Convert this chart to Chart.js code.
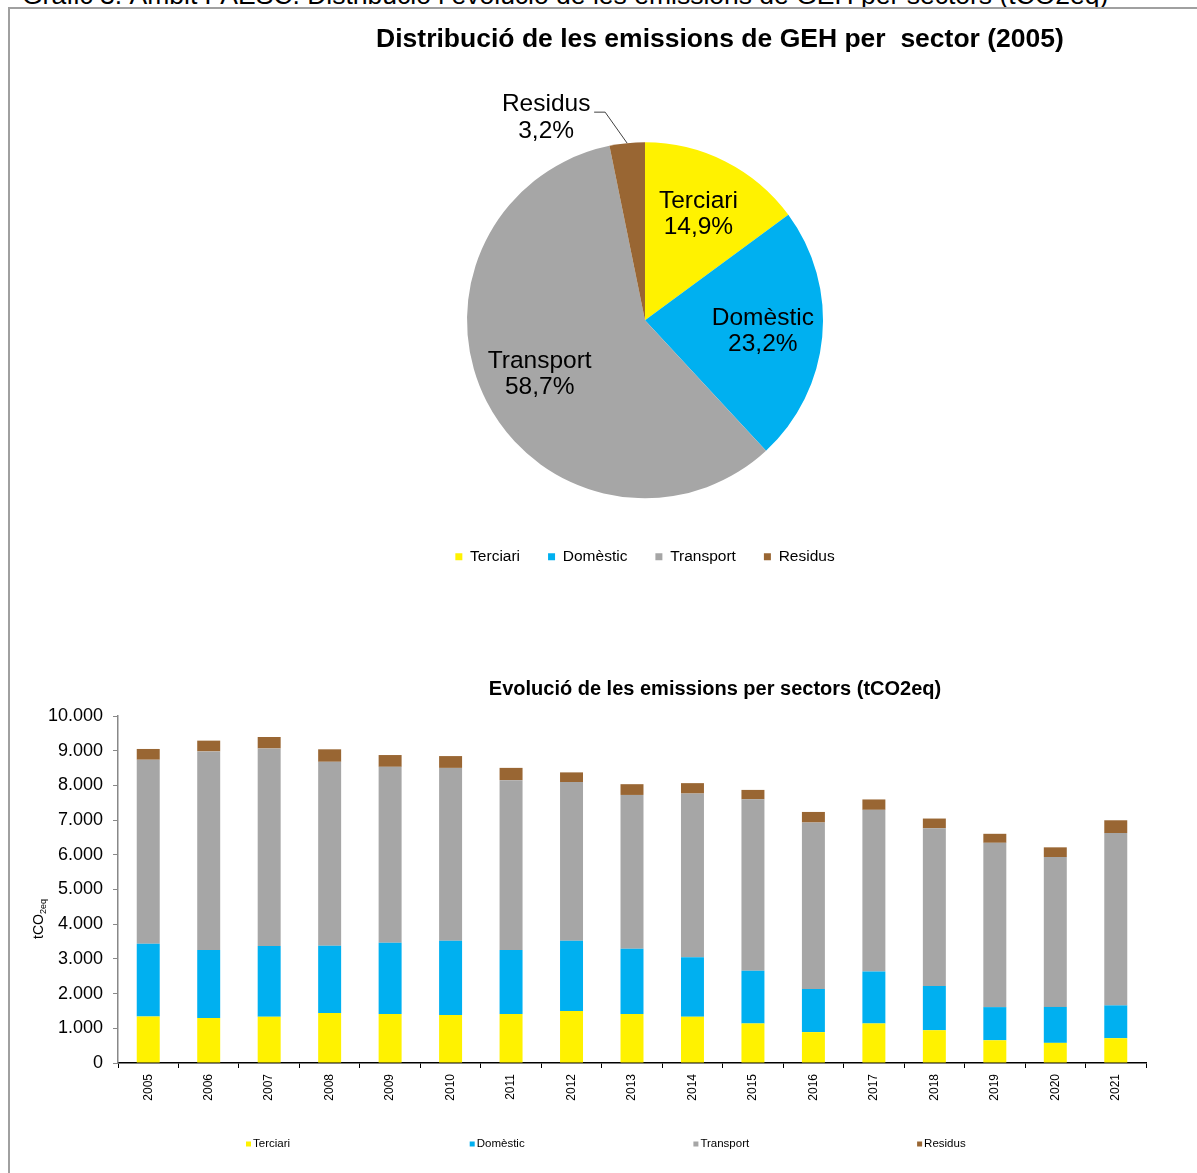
<!DOCTYPE html>
<html lang="ca">
<head>
<meta charset="utf-8">
<title>Emissions de GEH per sectors</title>
<script src="https://cdn.jsdelivr.net/npm/chart.js@4.4.0/dist/chart.umd.min.js"></script>
<style>
  html, body { margin:0; padding:0; overflow:hidden; background:#fff; }
  body { position:relative; width:1197px; height:1173px; font-family:'Liberation Sans', Arial, sans-serif; }
  #caption { position:absolute; left:22px; top:-20px; font-size:26.5px; white-space:nowrap; color:#000; }
  #frame { position:absolute; left:8px; top:7px; right:-4px; bottom:-4px; border-top:2px solid #a0a0a0; border-left:2px solid #a0a0a0; }
  .box { position:absolute; }
</style>
</head>
<body>
<div id="caption">Gràfic 3. Àmbit PAESC. Distribució i evolució de les emissions de GEH per sectors (tCO2eq)</div>
<div id="frame"></div>
<div class="box" style="left:0;top:0;width:1290px;height:600px"><canvas id="pieChart"></canvas></div>
<div class="box" style="left:0;top:640px;width:1197px;height:533px"><canvas id="barChart"></canvas></div>

<script>
// ===== Data =====
const SECTORS = ['Terciari', 'Domèstic', 'Transport', 'Residus'];
const COLORS  = ['#FFF200', '#00B0F0', '#A6A6A6', '#996633'];
const PIE_SHARES = [14.9, 23.2, 58.7, 3.2];   // % 2005

const YEARS = ['2005','2006','2007','2008','2009','2010','2011','2012','2013','2014','2015','2016','2017','2018','2019','2020','2021'];
const TERCIARI  = [1340,1300,1330,1440,1410,1380,1410,1500,1410,1330,1140, 890,1140, 945, 655, 580, 715];
const DOMESTIC  = [2100,1960,2045,1940,2055,2140,1850,2025,1880,1720,1520,1245,1495,1275, 955,1035, 945];
const TRANSPORT = [5300,5720,5690,5300,5070,4985,4890,4570,4435,4715,4940,4795,4660,4545,4735,4320,4965];
const RESIDUS   = [ 310, 310, 330, 360, 340, 340, 355, 280, 310, 300, 270, 305, 300, 280, 260, 280, 370];
const Y_MAX = 10000, Y_STEP = 1000;

// ===== Defaults =====
const FONT = "'Liberation Sans', Arial, sans-serif";
Chart.defaults.font.family = FONT;
Chart.defaults.color = '#000';
Chart.defaults.animation = false;

// ===== Utils =====
const fmtThousands = v => String(v).replace(/\B(?=(\d{3})+(?!\d))/g, '.');
const fmtPct = v => v.toFixed(1).replace('.', ',') + '%';

// ===== Plugin: pie title + slice labels =====
const pieDecor = {
  id: 'pieDecor',
  afterDraw(chart){
    const ctx = chart.ctx;
    ctx.save();
    ctx.fillStyle = '#000';
    ctx.textAlign = 'center';
    ctx.textBaseline = 'middle';
    ctx.font = `bold 26.5px ${FONT}`;
    ctx.fillText('Distribució de les emissions de GEH per  sector (2005)', 720, 40);

    const arcs = chart.getDatasetMeta(0).data;
    ctx.font = `24.5px ${FONT}`;
    arcs.forEach((arc, i) => {
      const {x, y, startAngle, endAngle, outerRadius} = arc.getProps(['x','y','startAngle','endAngle','outerRadius']);
      const name = SECTORS[i], pct = fmtPct(PIE_SHARES[i]);
      const mid = (startAngle + endAngle) / 2;
      if (i < 3) {
        const d = outerRadius * 0.665;
        const lx = x + Math.cos(mid) * d, ly = y + Math.sin(mid) * d;
        ctx.fillText(name, lx, ly - 13);
        ctx.fillText(pct, lx, ly + 13);
      } else {
        // outside label with leader line
        const px = x + Math.cos(mid) * outerRadius, py = y + Math.sin(mid) * outerRadius;
        const ex = px - 22, ey = py - 31;
        ctx.strokeStyle = '#404040';
        ctx.lineWidth = 1;
        ctx.beginPath();
        ctx.moveTo(px, py); ctx.lineTo(ex, ey); ctx.lineTo(ex - 11, ey);
        ctx.stroke();
        const tx = ex - 59;
        ctx.fillText(name, tx, ey - 8);
        ctx.fillText(pct, tx, ey + 19);
      }
    });
    ctx.restore();
  }
};

// ===== Plugin: bar title, y title, legend =====
const barDecor = {
  id: 'barDecor',
  afterDraw(chart){
    const ctx = chart.ctx, area = chart.chartArea;
    ctx.save();
    ctx.fillStyle = '#000';
    ctx.textBaseline = 'middle';

    // title
    ctx.textAlign = 'center';
    ctx.font = `bold 20px ${FONT}`;
    ctx.fillText('Evolució de les emissions per sectors (tCO2eq)', 715, 49);

    // y axis title tCO2eq with subscript
    ctx.save();
    ctx.translate(38, 279);
    ctx.rotate(-Math.PI / 2);
    ctx.textAlign = 'left';
    ctx.textBaseline = 'alphabetic';
    ctx.font = `14px ${FONT}`;
    const w1 = ctx.measureText('tCO').width;
    ctx.font = `9px ${FONT}`;
    const w2 = ctx.measureText('2eq').width;
    const sx = -(w1 + w2) / 2;
    ctx.font = `14px ${FONT}`;
    ctx.fillText('tCO', sx, 5);
    ctx.font = `9px ${FONT}`;
    ctx.fillText('2eq', sx + w1, 8);
    ctx.restore();

    // legend
    ctx.textAlign = 'left';
    ctx.font = `11.5px ${FONT}`;
    chart.data.datasets.forEach((ds, i) => {
      const lx = area.left + 128 + i * 223.7, ly = 504;
      ctx.fillStyle = ds.backgroundColor;
      ctx.fillRect(lx, ly - 2.5, 5, 5);
      ctx.fillStyle = '#000';
      ctx.fillText(ds.label, lx + 7, ly);
    });
    ctx.restore();
  }
};

// ===== Pie =====
new Chart(document.getElementById('pieChart'), {
  type: 'pie',
  data: {
    labels: SECTORS,
    datasets: [{ data: PIE_SHARES, backgroundColor: COLORS, borderWidth: 0, radius: 178 }]
  },
  options: {
    responsive: true, maintainAspectRatio: false,
    layout: { padding: { top: 119.5, bottom: 25.5, left: 0, right: 0 } },
    plugins: {
      title: { display: false },
      tooltip: { enabled: false },
      legend: {
        position: 'bottom',
        labels: { boxWidth: 7, boxHeight: 7, padding: 28, font: { size: 15.5 }, color: '#000' }
      }
    }
  },
  plugins: [pieDecor]
});

// ===== Stacked bars =====
const SERIES = [TERCIARI, DOMESTIC, TRANSPORT, RESIDUS];
new Chart(document.getElementById('barChart'), {
  type: 'bar',
  data: {
    labels: YEARS,
    datasets: SECTORS.map((name, i) => ({
      label: name, data: SERIES[i], backgroundColor: COLORS[i],
      borderWidth: 0, barPercentage: 0.38, categoryPercentage: 1
    }))
  },
  options: {
    responsive: true, maintainAspectRatio: false,
    layout: { padding: { top: 76, bottom: 0, left: 0, right: 51 } },
    plugins: { legend: { display: false }, title: { display: false }, tooltip: { enabled: false } },
    scales: {
      x: {
        stacked: true,
        afterFit: s => { s.height = 110; },
        border: { color: '#000', width: 1.5 },
        grid: { drawOnChartArea: false, drawTicks: true, tickLength: 5, color: '#000', offset: true },
        ticks: { minRotation: 90, maxRotation: 90, padding: 6, font: { size: 12 }, color: '#000' }
      },
      y: {
        stacked: true, min: 0, max: Y_MAX,
        afterFit: s => { s.width = 118; },
        border: { color: '#888', width: 1.5 },
        grid: { drawOnChartArea: false, drawTicks: true, tickLength: 5, color: '#888' },
        ticks: { stepSize: Y_STEP, padding: 10, font: { size: 18 }, color: '#000', callback: v => fmtThousands(v) }
      }
    }
  },
  plugins: [barDecor]
});
</script>
</body>
</html>
